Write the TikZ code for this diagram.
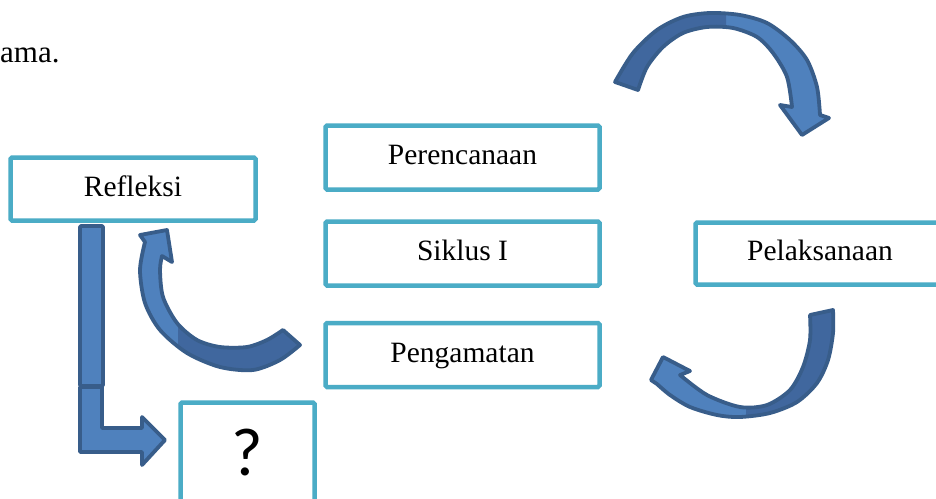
\documentclass[tikz,border=0pt]{standalone}
\usepackage{fontspec}
\setmainfont{Liberation Serif}
\newfontfamily\calibrifont{Carlito}
\definecolor{boxc}{RGB}{75,172,198}
\definecolor{arrl}{RGB}{79,129,189}
\definecolor{arrd}{RGB}{64,103,158}
\definecolor{arre}{RGB}{56,93,138}
\tikzset{
  boxbase/.style={draw=boxc, line width=4.5pt, fill=white, rounded corners=1.5pt, inner sep=0pt},
  box/.style={boxbase, minimum width=274pt, minimum height=64pt,
    font=\fontsize{29.5}{31}\selectfont, text height=20pt, text depth=6pt},
  arrowbody/.style={fill=arrl},
  arrowdark/.style={fill=arrd},
  arrowedge/.style={draw=arre, line width=3.8pt, line join=round},
}
\def\pathT{(615,82) -- (638,90) -- plot[smooth] coordinates {(638,90) (647,67) (663,47) (683,33) (707,27) (733,28) (757,37) (773,53) (787,77) (792,107)} -- (780,105) -- (802,135) -- (829,118) -- (820,115) -- plot[smooth] coordinates {(820,115) (817,87) (807,60) (790,40) (767,23) (740,15) (710,13) (683,17) (657,30) (633,53) (615,82)} -- cycle}
\def\pathR{(810,315) -- (833,310) -- plot[smooth] coordinates {(833,310) (833,333) (828,360) (817,383) (797,402) (770,413) (740,417) (717,415) (690,407) (670,395) (657,384)} -- (651,380) -- (663,357) -- (690,371) -- (680,375) -- plot[smooth] coordinates {(680,375) (707,395) (740,407) (767,405) (790,390) (803,367) (810,340) (810,315)} -- cycle}
\def\pathL{(300,345) -- (283,330) -- plot[smooth] coordinates {(283,330) (267,340) (247,347) (220,347) (197,340) (177,323) (163,297) (160,270) (162,256)} -- (172,262) -- (167,230) -- (140,235) -- (145,242) -- plot[smooth] coordinates {(145,242) (140,270) (145,303) (160,330) (187,353) (220,367) (253,370) (280,360) (300,345)} -- cycle}
\begin{document}
\begin{tikzpicture}[x=1pt,y=-1pt]
\useasboundingbox (0,0) rectangle (936,498);
\clip (0,0) rectangle (936,498);
\fill[white] (0,0) rectangle (936,498);

\node[anchor=base west, inner sep=0pt, font=\fontsize{31}{33}\selectfont] (ama) at (0,62) {ama.};

\node[box, minimum width=245pt, minimum height=63pt] (ref) at (133,189) {Refleksi};
\node[box] (per) at (462.5,157.5) {Perencanaan};
\node[box] (sik) at (462.5,253.5) {Siklus I};
\node[box] (pen) at (462.5,355) {Pengamatan};
\node[box, minimum width=249pt, minimum height=62pt] (pel) at (820,253.5) {Pelaksanaan};
\node[boxbase, minimum width=134pt, minimum height=99pt, font=\calibrifont\fontsize{68}{72}\selectfont] (q) at (247.5,452) {?};

% top curved arrow
\fill[arrowbody] \pathT;
\begin{scope}\clip (600,0) rectangle (726,150); \fill[arrowdark] \pathT; \end{scope}
\draw[arrowedge] \pathT;

% right curved arrow
\fill[arrowbody] \pathR;
\begin{scope}\clip (746,290) rectangle (850,430); \fill[arrowdark] \pathR; \end{scope}
\draw[arrowedge] \pathR;

% left curved arrow
\fill[arrowbody] \pathL;
\begin{scope}\clip (178,290) rectangle (320,390); \fill[arrowdark] \pathL; \end{scope}
\draw[arrowedge] \pathL;

% bent arrow from Refleksi
\filldraw[arrowbody, arrowedge, rounded corners=1pt] (80,226) rectangle (103,386);
\filldraw[arrowbody, arrowedge] (80,387) -- (102,387) -- (102,428) -- (142,428) -- (142,417) -- (165,440) -- (142,465) -- (142,452) -- (80,452) -- cycle;
\end{tikzpicture}
\end{document}
